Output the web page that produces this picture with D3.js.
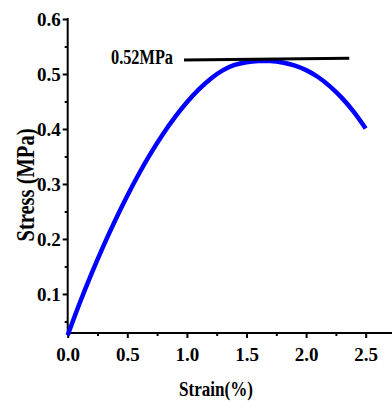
<!DOCTYPE html>
<html><head><meta charset="utf-8">
<script src="https://cdn.jsdelivr.net/npm/d3@7"></script>
<style>
html,body{margin:0;padding:0;background:#fff;}
svg text{font-family:"Liberation Serif","Times New Roman",serif;font-weight:bold;fill:#000;}
</style></head>
<body><svg id="c" width="392" height="402"></svg>
<script>
const strain = [0.0,0.1,0.2,0.3,0.4,0.5,0.6,0.7,0.8,0.9,1.0,1.1,1.2,1.3,1.4,1.5,1.6,1.7,1.8,1.9,2.0,2.1,2.2,2.3,2.4,2.5];
const stress = [0.025,0.083,0.137,0.1875,0.2345,0.2785,0.3195,0.357,0.391,0.4215,0.4485,0.472,0.4915,0.5065,0.5165,0.5215,0.5235,0.5235,0.521,0.5155,0.507,0.4945,0.4775,0.4565,0.431,0.401];
const xTicks = [0.0,0.5,1.0,1.5,2.0,2.5];
const xMinor = [0.25,0.75,1.25,1.75,2.25,2.75];
const yTicks = [0.1,0.2,0.3,0.4,0.5,0.6];
const yMinor = [0.05,0.15,0.25,0.35,0.45,0.55];
const peakLineX = [0.976, 2.362];
const peakLineY = [0.5255, 0.5286];
const peakLabel = "0.52MPa";
const xTitle = "Strain(%)";
const yTitle = "Stress (MPa)";

const svg = d3.select("#c");
const x = d3.scaleLinear().domain([0, 2.75]).range([67.7, 67.7 + 2.75*119.2]);
const y = d3.scaleLinear().domain([0.029, 0.6]).range([333, 19]);

// x axis
const gx = svg.append("g").attr("transform", `translate(0,${y(0.029)})`);
gx.append("line").attr("x1", x(0)-1).attr("x2", 392).attr("y1",0).attr("y2",0).attr("stroke","#000").attr("stroke-width",2);
{
  const s = gx.append("g").call(d3.axisBottom(x).tickValues(xTicks).tickFormat(d3.format(".1f")).tickSize(5).tickSizeOuter(0));
  s.select(".domain").remove();
  s.selectAll(".tick line").attr("stroke","#000").attr("stroke-width",2);
  s.selectAll(".tick text").attr("y", 28).attr("dy",0).style("font-size","19px");
  const m = gx.append("g").call(d3.axisBottom(x).tickValues(xMinor).tickSize(3).tickFormat(""));
  m.select(".domain").remove();
  m.selectAll(".tick line").attr("stroke","#000").attr("stroke-width",2);
}

// y axis
const gy = svg.append("g").attr("transform", `translate(${x(0)},0)`);
gy.append("line").attr("x1",0).attr("x2",0).attr("y1", y(0.6)-1).attr("y2", y(0.029)+1).attr("stroke","#000").attr("stroke-width",2);
{
  const s = gy.append("g").call(d3.axisLeft(y).tickValues(yTicks).tickFormat(d3.format(".1f")).tickSize(5).tickSizeOuter(0));
  s.select(".domain").remove();
  s.selectAll(".tick line").attr("stroke","#000").attr("stroke-width",2);
  s.selectAll(".tick text").attr("x", -7).attr("dy","0.33em").style("font-size","19px");
  const m = gy.append("g").call(d3.axisLeft(y).tickValues(yMinor).tickSize(3).tickFormat(""));
  m.select(".domain").remove();
  m.selectAll(".tick line").attr("stroke","#000").attr("stroke-width",2);
}

// curve
const data = strain.map((s,i)=>[s, stress[i]]);
svg.append("path").datum(data)
  .attr("fill","none").attr("stroke","#0000ff").attr("stroke-width",4.5)
  .attr("d", d3.line().x(d=>x(d[0])).y(d=>y(d[1])).curve(d3.curveNatural));

// peak line
svg.append("line")
  .attr("x1", x(peakLineX[0])).attr("y1", y(peakLineY[0]))
  .attr("x2", x(peakLineX[1])).attr("y2", y(peakLineY[1]))
  .attr("stroke","#000").attr("stroke-width",3);
svg.append("text").attr("x", 111).attr("y", 64).style("font-size","20.5px")
  .attr("textLength", 62).attr("lengthAdjust","spacingAndGlyphs").text(peakLabel);

// titles
svg.append("text").attr("x", 179).attr("y", 396).style("font-size","20px")
  .attr("textLength", 74).attr("lengthAdjust","spacingAndGlyphs").text(xTitle);
svg.append("text").attr("transform","translate(33.5,241.5) rotate(-90)").style("font-size","25px")
  .attr("textLength", 113).attr("lengthAdjust","spacingAndGlyphs").text(yTitle);
</script></body></html>
